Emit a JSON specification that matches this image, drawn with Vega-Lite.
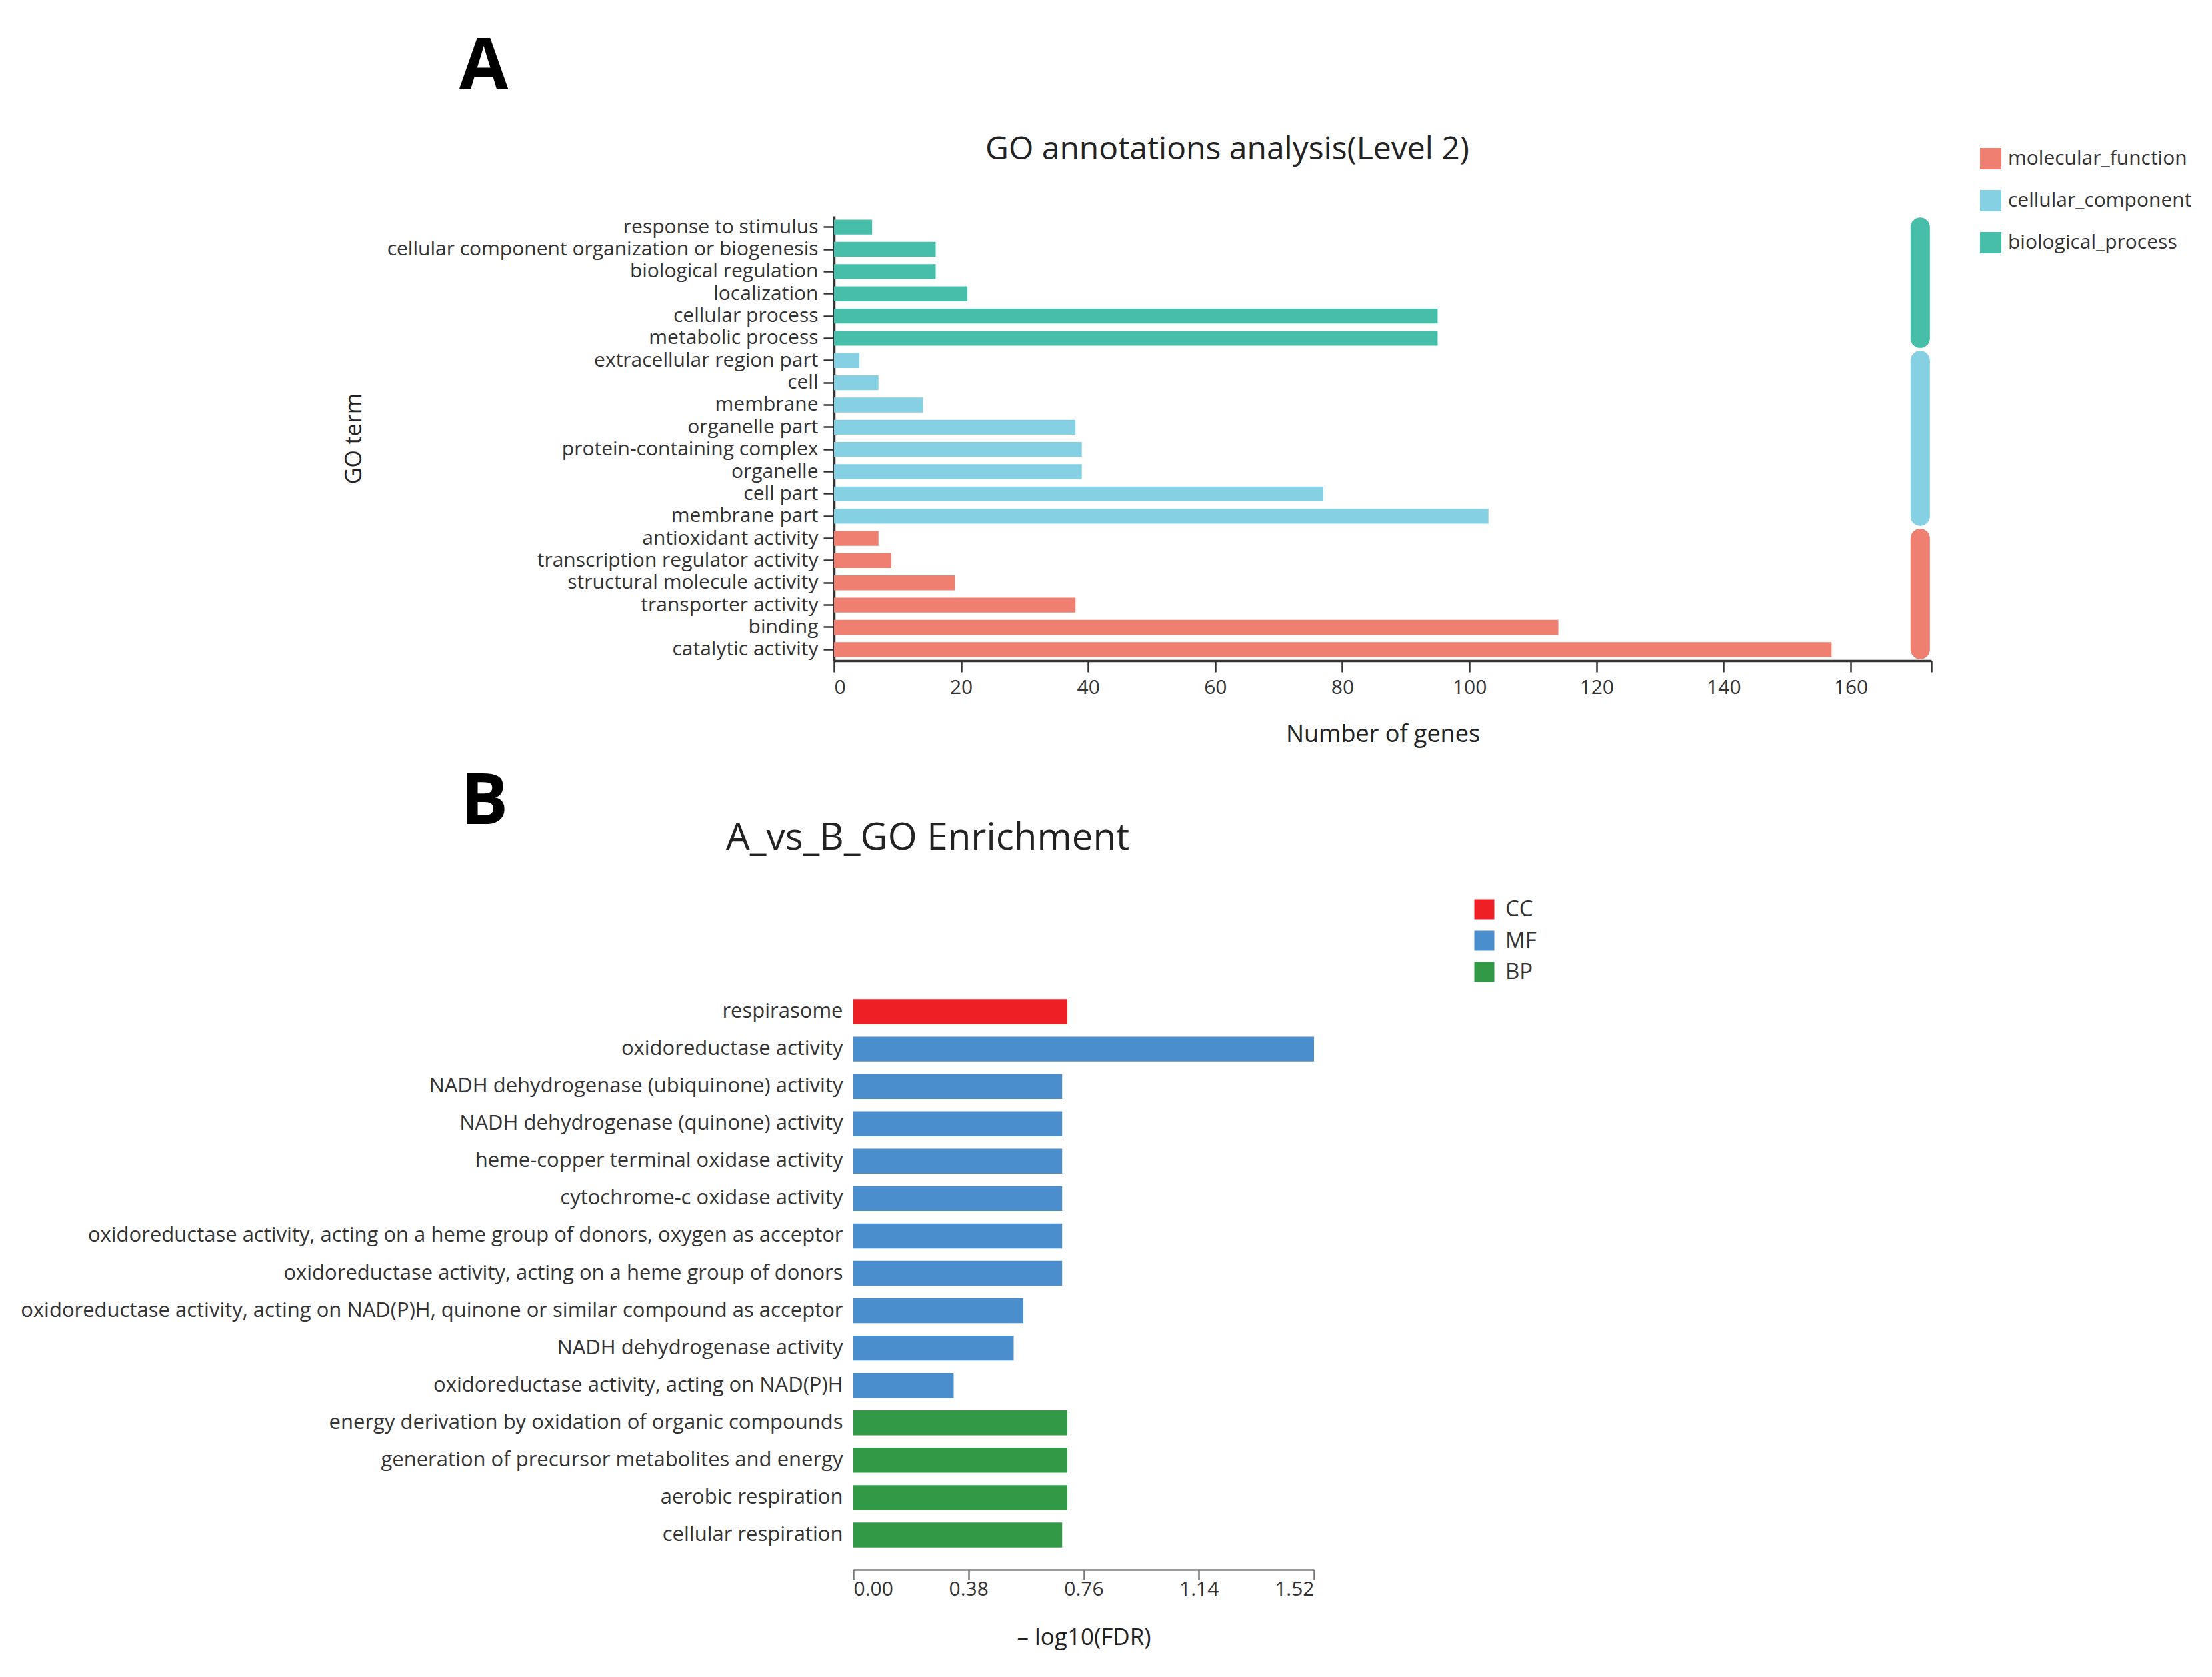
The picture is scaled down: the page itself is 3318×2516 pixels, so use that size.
{
  "$schema": "https://vega.github.io/schema/vega-lite/v6.json",
  "background": "white",
  "padding": {"left": 30, "top": 48, "right": 10, "bottom": 30},
  "config": {
    "font": "Open Sans",
    "view": {"stroke": null},
    "axis": {"labelColor": "#333", "titleColor": "#222", "titleFontWeight": "normal", "grid": false, "labelLimit": 2000},
    "legend": {"labelColor": "#333", "labelLimit": 2000}
  },
  "resolve": {"scale": {"color": "independent", "x": "independent", "y": "independent"}, "legend": {"color": "independent"}},
  "spacing": 31,
  "vconcat": [
    {
      "title": {"text": "A", "anchor": "start", "frame": "group", "dx": -562, "fontSize": 106, "fontWeight": "bold", "color": "#000", "offset": 46},
      "vconcat": [
        {
          "title": {"text": "GO annotations analysis(Level 2)", "anchor": "start", "frame": "group", "dx": 227, "fontSize": 48, "fontWeight": "normal", "color": "#222", "offset": 75},
          "width": 1646,
          "height": 667,
          "layer": [
            {
              "data": {"values": [
                {"term": "response to stimulus", "genes": 6, "cat": "biological_process"},
                {"term": "cellular component organization or biogenesis", "genes": 16, "cat": "biological_process"},
                {"term": "biological regulation", "genes": 16, "cat": "biological_process"},
                {"term": "localization", "genes": 21, "cat": "biological_process"},
                {"term": "cellular process", "genes": 95, "cat": "biological_process"},
                {"term": "metabolic process", "genes": 95, "cat": "biological_process"},
                {"term": "extracellular region part", "genes": 4, "cat": "cellular_component"},
                {"term": "cell", "genes": 7, "cat": "cellular_component"},
                {"term": "membrane", "genes": 14, "cat": "cellular_component"},
                {"term": "organelle part", "genes": 38, "cat": "cellular_component"},
                {"term": "protein-containing complex", "genes": 39, "cat": "cellular_component"},
                {"term": "organelle", "genes": 39, "cat": "cellular_component"},
                {"term": "cell part", "genes": 77, "cat": "cellular_component"},
                {"term": "membrane part", "genes": 103, "cat": "cellular_component"},
                {"term": "antioxidant activity", "genes": 7, "cat": "molecular_function"},
                {"term": "transcription regulator activity", "genes": 9, "cat": "molecular_function"},
                {"term": "structural molecule activity", "genes": 19, "cat": "molecular_function"},
                {"term": "transporter activity", "genes": 38, "cat": "molecular_function"},
                {"term": "binding", "genes": 114, "cat": "molecular_function"},
                {"term": "catalytic activity", "genes": 157, "cat": "molecular_function"}
              ]},
              "mark": {"type": "bar"},
              "encoding": {
                "y": {
                  "field": "term", "type": "nominal",
                  "scale": {
                    "domain": ["response to stimulus", "cellular component organization or biogenesis", "biological regulation", "localization", "cellular process", "metabolic process", "extracellular region part", "cell", "membrane", "organelle part", "protein-containing complex", "organelle", "cell part", "membrane part", "antioxidant activity", "transcription regulator activity", "structural molecule activity", "transporter activity", "binding", "catalytic activity"],
                    "paddingInner": 0.33, "paddingOuter": 0.165
                  },
                  "axis": {
                    "title": "GO term", "titleFontSize": 34, "titleX": -703,
                    "labelFontSize": 30, "labelPadding": 8, "tickSize": 16, "tickWidth": 2.5, "tickColor": "#333",
                    "domainColor": "#333", "domainWidth": 3.5
                  }
                },
                "x": {
                  "field": "genes", "type": "quantitative",
                  "scale": {"domain": [0, 172.7], "nice": false},
                  "axis": {
                    "title": "Number of genes", "titleFontSize": 36, "titlePadding": 38,
                    "values": [0, 20, 40, 60, 80, 100, 120, 140, 160, 172.7],
                    "labelExpr": "datum.value > 170 ? '' : datum.label",
                    "labelFontSize": 30, "labelPadding": 8, "tickSize": 17, "tickWidth": 2.5, "tickColor": "#333",
                    "domainColor": "#333", "domainWidth": 3.5
                  }
                },
                "color": {
                  "field": "cat", "type": "nominal",
                  "scale": {"domain": ["molecular_function", "cellular_component", "biological_process"], "range": ["#EE7F71", "#85D0E2", "#47BEA9"]},
                  "legend": {
                    "title": null, "orient": "none", "legendX": 1719, "legendY": -102,
                    "symbolType": "square", "symbolSize": 1024, "symbolStrokeWidth": 0,
                    "labelFontSize": 30, "labelOffset": 10, "rowPadding": 31
                  }
                }
              }
            },
            {
              "data": {"values": [
                {"cat": "biological_process", "start": "response to stimulus", "end": "metabolic process"},
                {"cat": "cellular_component", "start": "extracellular region part", "end": "membrane part"},
                {"cat": "molecular_function", "start": "antioxidant activity", "end": "catalytic activity"}
              ]},
              "mark": {"type": "rule", "strokeWidth": 29, "strokeCap": "round"},
              "encoding": {
                "y": {"field": "start", "type": "nominal"},
                "y2": {"field": "end"},
                "x": {"datum": 170.95},
                "stroke": {
                  "field": "cat", "type": "nominal",
                  "scale": {"domain": ["molecular_function", "cellular_component", "biological_process"], "range": ["#EE7F71", "#85D0E2", "#47BEA9"]},
                  "legend": null
                }
              }
            }
          ]
        }
      ]
    },
    {
      "title": {"text": "B", "anchor": "start", "frame": "group", "dx": -560, "fontSize": 106, "fontWeight": "bold", "color": "#000", "offset": -28},
      "vconcat": [
        {
          "title": {"text": "A_vs_B_GO Enrichment", "anchor": "start", "frame": "group", "dx": -162, "fontSize": 56.5, "fontWeight": "normal", "color": "#222", "offset": 204},
          "width": 720,
          "height": 841,
          "data": {"values": [
            {"term": "respirasome", "value": 0.706, "cls": "CC"},
            {"term": "oxidoreductase activity", "value": 1.52, "cls": "MF"},
            {"term": "NADH dehydrogenase (ubiquinone) activity", "value": 0.689, "cls": "MF"},
            {"term": "NADH dehydrogenase (quinone) activity", "value": 0.689, "cls": "MF"},
            {"term": "heme-copper terminal oxidase activity", "value": 0.689, "cls": "MF"},
            {"term": "cytochrome-c oxidase activity", "value": 0.689, "cls": "MF"},
            {"term": "oxidoreductase activity, acting on a heme group of donors, oxygen as acceptor", "value": 0.689, "cls": "MF"},
            {"term": "oxidoreductase activity, acting on a heme group of donors", "value": 0.689, "cls": "MF"},
            {"term": "oxidoreductase activity, acting on NAD(P)H, quinone or similar compound as acceptor", "value": 0.561, "cls": "MF"},
            {"term": "NADH dehydrogenase activity", "value": 0.529, "cls": "MF"},
            {"term": "oxidoreductase activity, acting on NAD(P)H", "value": 0.331, "cls": "MF"},
            {"term": "energy derivation by oxidation of organic compounds", "value": 0.706, "cls": "BP"},
            {"term": "generation of precursor metabolites and energy", "value": 0.706, "cls": "BP"},
            {"term": "aerobic respiration", "value": 0.706, "cls": "BP"},
            {"term": "cellular respiration", "value": 0.689, "cls": "BP"}
          ]},
          "mark": {"type": "bar"},
          "encoding": {
            "y": {
              "field": "term", "type": "nominal", "sort": null,
              "scale": {"paddingInner": 0.333, "paddingOuter": 0.167},
              "axis": {"title": null, "domain": false, "ticks": false, "labelFontSize": 31, "labelPadding": -13}
            },
            "x": {
              "field": "value", "type": "quantitative",
              "scale": {"domain": [0, 1.52], "nice": false, "range": [29, 720]},
              "axis": {
                "title": "– log10(FDR)", "titleFontSize": 35, "titlePadding": 40,
                "values": [0, 0.38, 0.76, 1.14, 1.52], "format": ".2f",
                "offset": 24, "labelFontSize": 30, "labelPadding": -1,
                "tickSize": 15, "tickWidth": 2.5, "tickColor": "#777", "domainColor": "#777", "domainWidth": 2.5
              }
            },
            "color": {
              "field": "cls", "type": "nominal",
              "scale": {"domain": ["CC", "MF", "BP"], "range": ["#EE2026", "#4A8ECE", "#329A47"]},
              "legend": {
                "title": null, "orient": "none", "legendX": 959, "legendY": -142,
                "symbolType": "square", "symbolSize": 900, "symbolStrokeWidth": 0,
                "labelFontSize": 33, "labelOffset": 15, "rowPadding": 13
              }
            }
          }
        }
      ]
    }
  ]
}
